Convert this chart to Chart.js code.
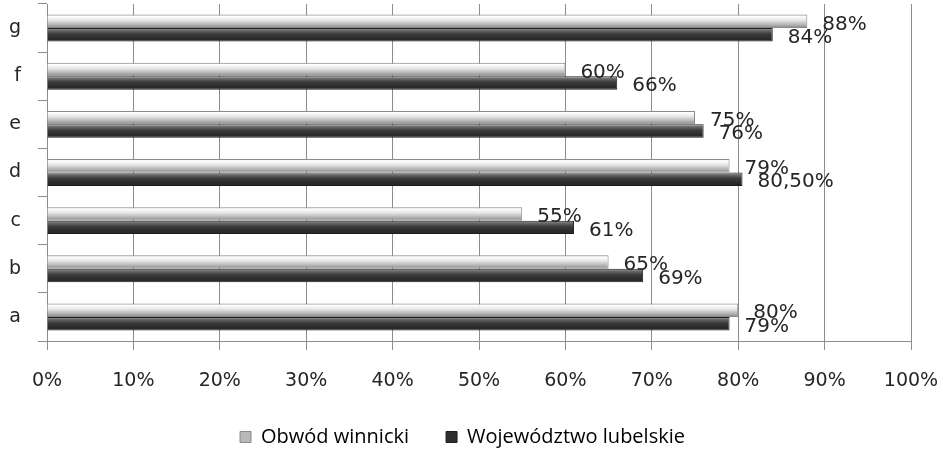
<!DOCTYPE html>
<html>
<head>
<meta charset="utf-8">
<script src="https://cdn.jsdelivr.net/npm/chart.js@4/dist/chart.umd.min.js"></script>
<style>
  html, body { margin: 0; padding: 0; background: #fff; }
  #wrap { width: 943px; height: 453px; position: relative; }
</style>
</head>
<body>
<div id="wrap"><canvas id="chart"></canvas></div>
<script>
const categories = ['a', 'b', 'c', 'd', 'e', 'f', 'g'];
const obwodWinnicki = [80, 65, 55, 79, 75, 60, 88];
const wojLubelskie = [79, 69, 61, 80.5, 76, 66, 84];
const xTicks = [0, 10, 20, 30, 40, 50, 60, 70, 80, 90, 100];

const CAT_PCT = 0.56;

// pionowy gradient "walca" dla kazdego slupka
function barGradient(ctx, stops, fallback) {
  const chart = ctx.chart;
  const y = chart.scales && chart.scales.y;
  if (!y || !chart.chartArea || ctx.dataIndex === undefined) return fallback;
  const center = y.getPixelForValue(ctx.dataIndex);
  const band = Math.abs(y.getPixelForValue(1) - y.getPixelForValue(0));
  const thick = band * CAT_PCT / 2;
  const top = ctx.datasetIndex === 0 ? center - thick : center;
  const g = chart.ctx.createLinearGradient(0, top, 0, top + thick);
  stops.forEach(s => g.addColorStop(s[0], s[1]));
  return g;
}

const lightStops = [[0, '#a8a8a8'], [0.12, '#ffffff'], [0.4, '#e8e8e8'], [0.75, '#b4b4b4'], [1, '#868686']];
const darkStops = [[0, '#a0a0a0'], [0.18, '#6a6a6a'], [0.45, '#3a3a3a'], [0.75, '#2c2c2c'], [1, '#242424']];

function fmt(v) {
  return (Number.isInteger(v) ? String(v) : v.toFixed(2).replace('.', ',')) + '%';
}

const valueLabels = {
  id: 'valueLabels',
  afterDatasetsDraw(chart) {
    const c = chart.ctx;
    c.save();
    c.font = '20px "DejaVu Sans"';
    c.fillStyle = '#262626';
    c.textBaseline = 'middle';
    c.textAlign = 'left';
    chart.data.datasets.forEach((ds, di) => {
      const meta = chart.getDatasetMeta(di);
      meta.data.forEach((el, i) => {
        c.fillText(fmt(ds.data[i]), el.x + 15, el.y + 3);
      });
    });
    c.restore();
  }
};

// legenda lekko w prawo, jak w oryginale
const legendShift = {
  id: 'legendShift',
  afterLayout(chart) {
    chart.legend.left += 7;
    chart.legend.right += 7;
  }
};

new Chart(document.getElementById('chart'), {
  type: 'bar',
  data: {
    labels: categories,
    datasets: [
      {
        label: 'Obwód winnicki',
        data: obwodWinnicki,
        backgroundColor: ctx => barGradient(ctx, lightStops, '#d0d0d0'),
        borderColor: '#8a8a8a',
        borderWidth: 1,
        categoryPercentage: CAT_PCT,
        barPercentage: 1
      },
      {
        label: 'Województwo lubelskie',
        data: wojLubelskie,
        backgroundColor: ctx => barGradient(ctx, darkStops, '#333333'),
        borderColor: '#1e1e1e',
        borderWidth: 1,
        categoryPercentage: CAT_PCT,
        barPercentage: 1
      }
    ]
  },
  options: {
    indexAxis: 'y',
    responsive: true,
    maintainAspectRatio: false,
    animation: false,
    layout: { padding: { top: 4, right: 32, left: 0, bottom: -4 } },
    scales: {
      x: {
        min: 0,
        max: 100,
        afterBuildTicks: axis => { axis.ticks = xTicks.map(v => ({ value: v })); },
        afterFit: scale => {
          scale.height = 49;
          scale.paddingLeft = 0;
          scale.paddingRight = 0;
        },
        ticks: {
          callback: v => v + '%',
          font: { family: 'DejaVu Sans', size: 19 },
          color: '#262626',
          padding: 20,
          maxRotation: 0
        },
        grid: { color: '#8c8c8c', lineWidth: 1, tickLength: 9 },
        border: { color: '#8c8c8c' }
      },
      y: {
        reverse: true,
        afterFit: scale => {
          scale.width = 47;
          scale.paddingTop = 0;
          scale.paddingBottom = 0;
        },
        ticks: {
          font: { family: 'DejaVu Sans', size: 19 },
          color: '#262626',
          padding: 17
        },
        grid: { drawOnChartArea: false, color: '#8c8c8c', tickLength: 9, offset: true },
        border: { color: '#8c8c8c' }
      }
    },
    plugins: {
      legend: {
        position: 'bottom',
        labels: {
          font: { family: 'Open Sans', size: 20 },
          color: '#262626',
          boxWidth: 11,
          boxHeight: 11,
          padding: 37,
          generateLabels: chart => [
            { text: 'Obwód winnicki', fillStyle: '#b8b8b8', strokeStyle: '#8a8a8a', lineWidth: 1, datasetIndex: 0 },
            { text: 'Województwo lubelskie', fillStyle: '#2e2e2e', strokeStyle: '#1e1e1e', lineWidth: 1, datasetIndex: 1 }
          ]
        }
      },
      tooltip: { enabled: false }
    }
  },
  plugins: [valueLabels, legendShift]
});
</script>
</body>
</html>
